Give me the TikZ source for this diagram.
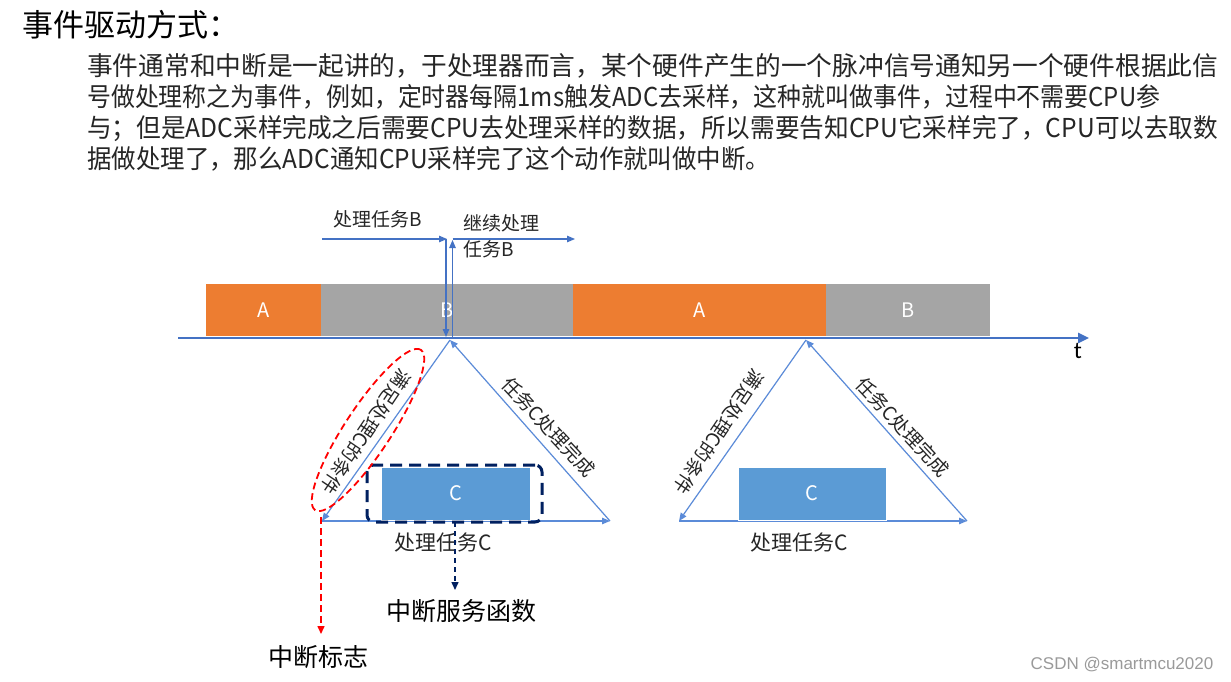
\documentclass[tikz,border=0pt]{standalone}
\usepackage{fontspec}
\usepackage{graphicx}
\setmainfont{Noto Sans CJK SC}
\newfontfamily\wmfont{Liberation Sans}
\newfontfamily\tfont{Carlito}
\usetikzlibrary{arrows.meta,shapes.geometric}
\definecolor{axisblue}{HTML}{4472C4}
\definecolor{lineblue}{HTML}{5B8BD8}
\definecolor{orangeA}{HTML}{ED7D31}
\definecolor{grayB}{HTML}{A5A5A5}
\definecolor{cblue}{HTML}{5B9BD5}
\definecolor{navyd}{HTML}{002060}
\definecolor{wmgray}{HTML}{9A9A9A}
\definecolor{txtgray}{HTML}{262626}
\newcommand\fs[1]{\fontsize{#1}{#1}\selectfont}
\newcommand\fitline[2]{\resizebox{#1}{\height}{#2}}
\begin{document}
\begin{tikzpicture}[x=1pt,y=-1pt,
  tip/.style={-{Triangle[length=8pt,width=6.5pt]}},
  edge/.style={draw=lineblue,line width=1.2pt,tip},
  toparrow/.style={draw=axisblue,line width=1.2pt,tip},
  axisline/.style={draw=axisblue,line width=2.6pt,-{Triangle[length=11pt,width=10pt]}},
  bar/.style={inner sep=0pt,minimum height=52pt,text=white,font=\fs{20}},
  cbox/.style={fill=cblue,draw=white,line width=0.5pt,inner sep=0pt,minimum height=53pt,text=white,font=\fs{20}},
  para/.style={anchor=base west,inner sep=0pt,font=\fs{26},text=txtgray},
  small/.style={inner sep=0pt,font=\fs{19},text=txtgray},
  edgelabel/.style={inner sep=0pt,font=\fs{19},text=txtgray},
  big/.style={inner sep=0pt,font=\fs{25},text=black},
]
\useasboundingbox[fill=white] (0,0) rectangle (1231,682);

% title and paragraph
\node[anchor=base west,inner sep=0pt,font=\fs{31},text=black] (title) at (22,37) {事件驱动方式：};
\node[para] (p1) at (87,76) {\fitline{1131pt}{事件通常和中断是一起讲的，于处理器而言，某个硬件产生的一个脉冲信号通知另一个硬件根据此信}};
\node[para] (p2) at (87,107) {\fitline{1073pt}{号做处理称之为事件，例如，定时器每隔1ms触发ADC去采样，这种就叫做事件，过程中不需要CPU参}};
\node[para] (p3) at (87,138) {\fitline{1131pt}{与；但是ADC采样完成之后需要CPU去处理采样的数据，所以需要告知CPU它采样完了，CPU可以去取数}};
\node[para] (p4) at (87,168) {\fitline{683pt}{据做处理了，那么ADC通知CPU采样完了这个动作就叫做中断。}};

% bars
\node[bar,fill=orangeA,minimum width=115pt] (a1) at (263.5,310) {A};
\node[bar,fill=grayB,minimum width=252pt] (b1) at (447,310) {B};
\node[bar,fill=orangeA,minimum width=253pt] (a2) at (699.5,310) {A};
\node[bar,fill=grayB,minimum width=164pt] (b2) at (908,310) {B};

% axis
\coordinate (ax0) at (178,338);
\coordinate (ax1) at (1089,338);
\draw[axisline] (ax0) -- (ax1);
\node[inner sep=0pt,font=\tfont\fontsize{24}{24}\selectfont] (t) at (1078,351) {t};

% top arrows
\coordinate (pb0) at (322,239);
\coordinate (pb1) at (447,239);
\coordinate (pb2) at (446,337);
\coordinate (pc0) at (452.5,337);
\coordinate (pc1) at (452.5,240);
\coordinate (pc2) at (575,239);
\draw[toparrow] (pb0) -- (pb1);
\draw[toparrow] (446,239) -- (pb2);
\draw[toparrow] (pc0) -- (pc1);
\draw[toparrow] (452.5,239) -- (pc2);
\node[small] (lb) at (378,219) {处理任务B};
\node[small,anchor=west] (lc1) at (463,223) {继续处理};
\node[small,anchor=west] (lc2) at (463,249) {任务B};

% triangle 1
\coordinate (t1a) at (450,340);
\coordinate (t1l) at (322,521);
\coordinate (t1r) at (610,521);
\draw[edge] (t1a) -- (t1l);
\draw[edge] (t1l) -- (t1r);
\draw[edge] (t1r) -- (t1a);
\node[cbox,minimum width=149pt] (c1) at (455.5,493.5) {C};
\node[edgelabel,rotate=-124] (l1) at (366,432) {满足处理C的条件};
\node[edgelabel,rotate=-47] (r1) at (549,427) {任务C处理完成};
\node[small,font=\fs{21}] (pc1lab) at (443,543) {处理任务C};

% triangle 2
\coordinate (t2a) at (806,340);
\coordinate (t2l) at (679,521);
\coordinate (t2r) at (967,521);
\draw[edge] (t2a) -- (t2l);
\draw[edge] (t2l) -- (t2r);
\draw[edge] (t2r) -- (t2a);
\node[cbox,minimum width=148pt] (c2) at (812,493.5) {C};
\node[edgelabel,rotate=-124] (l2) at (719,432) {满足处理C的条件};
\node[edgelabel,rotate=-47] (r2) at (903,427) {任务C处理完成};
\node[small,font=\fs{21}] (pc2lab) at (799,543) {处理任务C};

% highlights
\node[draw=navyd,line width=3pt,dash pattern=on 12pt off 7pt,rounded corners=7pt,
      minimum width=175pt,minimum height=57pt,inner sep=0pt] (isr) at (454.5,493.5) {};
\node[draw=red,line width=1.8pt,dash pattern=on 7pt off 4pt,ellipse,
      minimum width=192pt,minimum height=46pt,inner sep=0pt,rotate=56.6] (flag) at (368,430) {};

% annotation arrows
\coordinate (isr0) at (455,522);
\coordinate (flag0) at (321,517);
\node[big] (isrlab) at (461,611) {中断服务函数};
\node[big] (flaglab) at (318,657) {中断标志};
\draw[navyd,line width=1.5pt,dash pattern=on 5pt off 4pt,-{Triangle[length=8pt,width=7pt]}] (isr0) -- (455,590);
\draw[red,line width=1.5pt,dash pattern=on 7pt off 4pt,-{Triangle[length=8pt,width=7pt]}] (flag0) -- (321,634);

% watermark
\node[inner sep=0pt,font=\wmfont\fontsize{17}{17}\selectfont,text=wmgray] (wm) at (1122,665) {CSDN @smartmcu2020};
\end{tikzpicture}
\end{document}
